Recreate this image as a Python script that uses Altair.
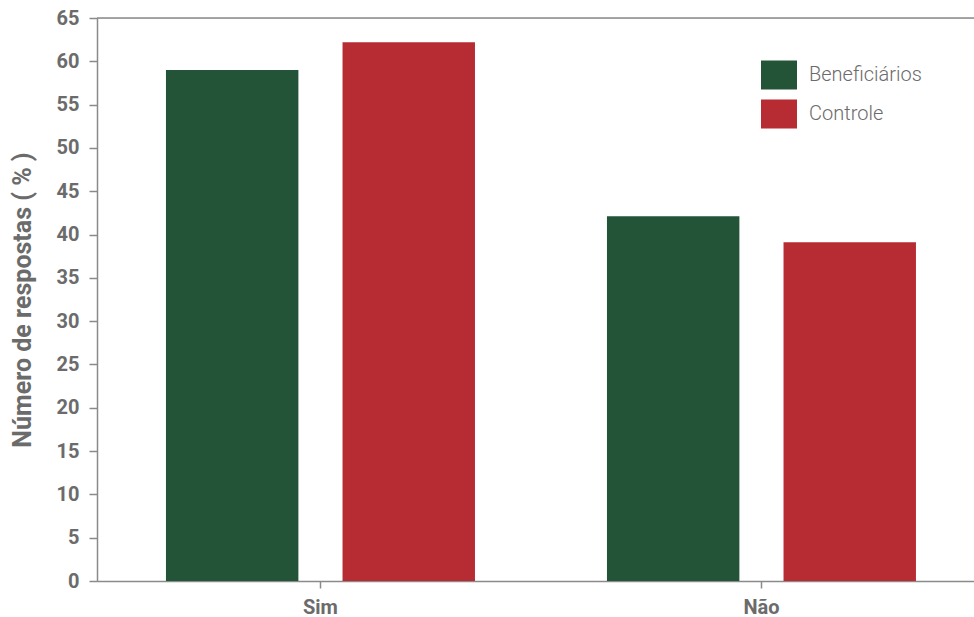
import altair as alt
import pandas as pd

# Respostas por grupo
respostas = ["Sim", "Não"]
grupos = ["Beneficiários", "Controle"]
beneficiarios = [59.0, 42.1]
controle = [62.2, 39.1]
cores = ["#235437", "#B72B33"]
y_ticks = list(range(0, 66, 5))

rows = []
for i, r in enumerate(respostas):
    rows.append({"resposta": r, "grupo": grupos[0], "valor": beneficiarios[i]})
    rows.append({"resposta": r, "grupo": grupos[1], "valor": controle[i]})
df = pd.DataFrame(rows)

FONT = "Roboto"
GRAY = "#6b6b6b"
LINE = "#8a8a8a"

bars = (
    alt.Chart(df)
    .mark_bar()
    .encode(
        x=alt.X(
            "resposta:N",
            sort=respostas,
            scale=alt.Scale(paddingInner=0.2993, paddingOuter=0.144, align=0.543),
            axis=alt.Axis(
                title=None,
                labelAngle=0,
                labelFont=FONT,
                labelFontSize=20,
                labelFontWeight="bold",
                labelColor=GRAY,
                labelPadding=9,
                domainColor=LINE,
                domainWidth=1.5,
                tickColor=LINE,
                tickSize=7,
                tickWidth=1.5,
            ),
        ),
        xOffset=alt.XOffset(
            "grupo:N",
            sort=grupos,
            scale=alt.Scale(paddingInner=0.25, paddingOuter=0),
        ),
        y=alt.Y(
            "valor:Q",
            scale=alt.Scale(domain=[0, 65], nice=False),
            axis=alt.Axis(
                title="Número de respostas ( % )",
                values=y_ticks,
                grid=False,
                labelFont=FONT,
                labelFontSize=20,
                labelFontWeight="bold",
                labelColor=GRAY,
                labelPadding=10,
                titleFont=FONT,
                titleFontSize=25,
                titleFontWeight="bold",
                titleColor=GRAY,
                titlePadding=21,
                domainColor=LINE,
                domainWidth=1.5,
                tickColor=LINE,
                tickSize=8,
                tickWidth=1.5,
            ),
        ),
        color=alt.Color(
            "grupo:N",
            sort=grupos,
            scale=alt.Scale(domain=grupos, range=cores),
            legend=alt.Legend(
                title=None,
                orient="none",
                legendX=664,
                legendY=39,
                symbolType="M-1,-0.806H1V0.806H-1Z",
                symbolSize=1296,
                symbolStrokeWidth=0,
                symbolOpacity=1,
                labelFont=FONT,
                labelFontSize=20,
                labelFontWeight=300,
                labelColor=GRAY,
                labelOffset=12,
                rowPadding=6,
                padding=0,
            ),
        ),
    )
)

# Linha superior do quadro, no topo da escala
top_line = (
    alt.Chart(pd.DataFrame({"topo": [y_ticks[-1]]}))
    .mark_rule(color=LINE, strokeWidth=1.5)
    .encode(y="topo:Q")
)

chart = (
    alt.layer(bars, top_line)
    .properties(
        width=877,
        height=563,
        autosize=alt.AutoSizeParams(type="none"),
        padding={"left": 97, "top": 18, "right": 0, "bottom": 36},
    )
    .configure_view(stroke="transparent")
    .configure(background="white")
)

chart.save("out.html", embed_options={"renderer": "svg", "actions": False})
